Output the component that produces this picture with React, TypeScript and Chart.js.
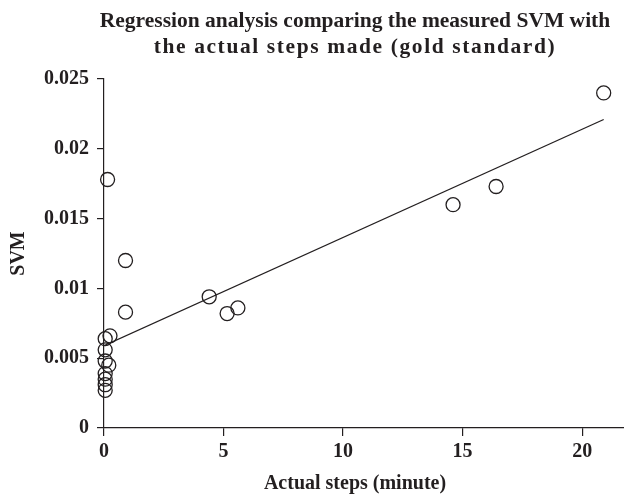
import React, { useEffect, useRef } from "react";
import { Chart, registerables } from "chart.js";

Chart.register(...registerables);

const INK = "#231f20";
const FONT = '"Liberation Serif", "Times New Roman", serif';

const TITLE_LINES = [
  "Regression analysis comparing the measured SVM with",
  "the actual steps made (gold standard)",
];
const X_TITLE = "Actual steps (minute)";
const Y_TITLE = "SVM";

const X_TICKS = [0, 5, 10, 15, 20];
const Y_TICKS = [0, 0.005, 0.01, 0.015, 0.02, 0.025];
const Y_TICK_LABELS = ["0", "0.005", "0.01", "0.015", "0.02", "0.025"];

const STEPS = [
  0.15, 0.9, 0.9, 0.25, 0.05, 0.05, 0.05, 0.2, 0.05, 0.05, 0.05, 0.05, 4.4,
  5.15, 5.6, 14.6, 16.4, 20.9,
];
const SVM = [
  0.0178, 0.012, 0.0083, 0.0066, 0.0064, 0.0056, 0.0048, 0.0045, 0.0039,
  0.0035, 0.0031, 0.0027, 0.0094, 0.0082, 0.0086, 0.016, 0.0173, 0.024,
];

const REG_X = [0, 20.9];
const REG_Y = [0.0059, 0.0221];

const X_MIN = 0;
const X_MAX = 21.75;
const Y_MIN = 0;
const Y_MAX = 0.025;

const textPlugin = {
  id: "customText",
  afterDraw(chart: any) {
    const { ctx, chartArea } = chart;
    const cx = (chartArea.left + chartArea.right) / 2 - 9;
    ctx.save();
    ctx.fillStyle = INK;
    ctx.textAlign = "center";
    ctx.textBaseline = "alphabetic";
    ctx.font = `bold 21.5px ${FONT}`;
    ctx.fillText(TITLE_LINES[0], cx, 27);
    (ctx as any).letterSpacing = "1.6px";
    ctx.fillText(TITLE_LINES[1], cx, 53);
    (ctx as any).letterSpacing = "0px";
    ctx.font = `bold 20px ${FONT}`;
    ctx.fillText(X_TITLE, cx, 489);
    ctx.restore();
  },
};

export default function App() {
  const ref = useRef<HTMLCanvasElement | null>(null);

  useEffect(() => {
    if (!ref.current) return;
    Chart.defaults.font.family = FONT;
    const chart = new Chart(ref.current, {
      type: "scatter",
      data: {
        datasets: [
          {
            type: "line",
            data: REG_X.map((x, i) => ({ x, y: REG_Y[i] })),
            borderColor: INK,
            borderWidth: 1.3,
            pointRadius: 0,
            fill: false,
            tension: 0,
          } as any,
          {
            type: "scatter",
            data: STEPS.map((x, i) => ({ x, y: SVM[i] })),
            pointStyle: "circle",
            pointRadius: 7,
            pointBorderWidth: 1.3,
            borderColor: INK,
            backgroundColor: "rgba(0,0,0,0)",
            clip: false,
          } as any,
        ],
      },
      options: {
        animation: false,
        responsive: false,
        layout: {
          autoPadding: false,
          padding: { top: 79, left: 0, right: 0, bottom: 0 },
        },
        plugins: {
          legend: { display: false },
          title: { display: false },
          tooltip: { enabled: false },
        },
        scales: {
          x: {
            type: "linear",
            min: X_MIN,
            max: X_MAX,
            afterBuildTicks: (s: any) => {
              s.ticks = X_TICKS.map((v) => ({ value: v }));
            },
            afterFit: (s: any) => {
              s.height = 68;
            },
            ticks: {
              color: INK,
              font: { size: 20, weight: "bold", family: FONT },
              padding: 4,
              maxRotation: 0,
              callback: (v: any) => String(v),
            },
            grid: {
              drawOnChartArea: false,
              drawTicks: true,
              tickLength: 8,
              color: INK,
              lineWidth: 1.2,
            },
            border: { display: true, color: INK, width: 1.2 },
            title: { display: false },
          },
          y: {
            type: "linear",
            min: Y_MIN,
            max: Y_MAX,
            afterBuildTicks: (s: any) => {
              s.ticks = Y_TICKS.map((v) => ({ value: v }));
            },
            afterFit: (s: any) => {
              s.width = 104;
            },
            ticks: {
              color: INK,
              font: { size: 20, weight: "bold", family: FONT },
              padding: 8,
              callback: (v: any) => {
                const i = Y_TICKS.indexOf(v);
                return i >= 0 ? Y_TICK_LABELS[i] : "";
              },
            },
            grid: {
              drawOnChartArea: false,
              drawTicks: true,
              tickLength: 7,
              color: INK,
              lineWidth: 1.2,
            },
            border: { display: true, color: INK, width: 1.2 },
            title: {
              display: true,
              text: Y_TITLE,
              color: INK,
              font: { size: 20, weight: "bold", family: FONT },
              padding: { top: 7, bottom: 0 },
            },
          },
        },
      },
      plugins: [textPlugin],
    } as any);
    return () => chart.destroy();
  }, []);

  return (
    <div style={{ position: "absolute", left: 0, top: 0, width: 624, height: 496 }}>
      <canvas ref={ref} width={624} height={496} />
    </div>
  );
}
